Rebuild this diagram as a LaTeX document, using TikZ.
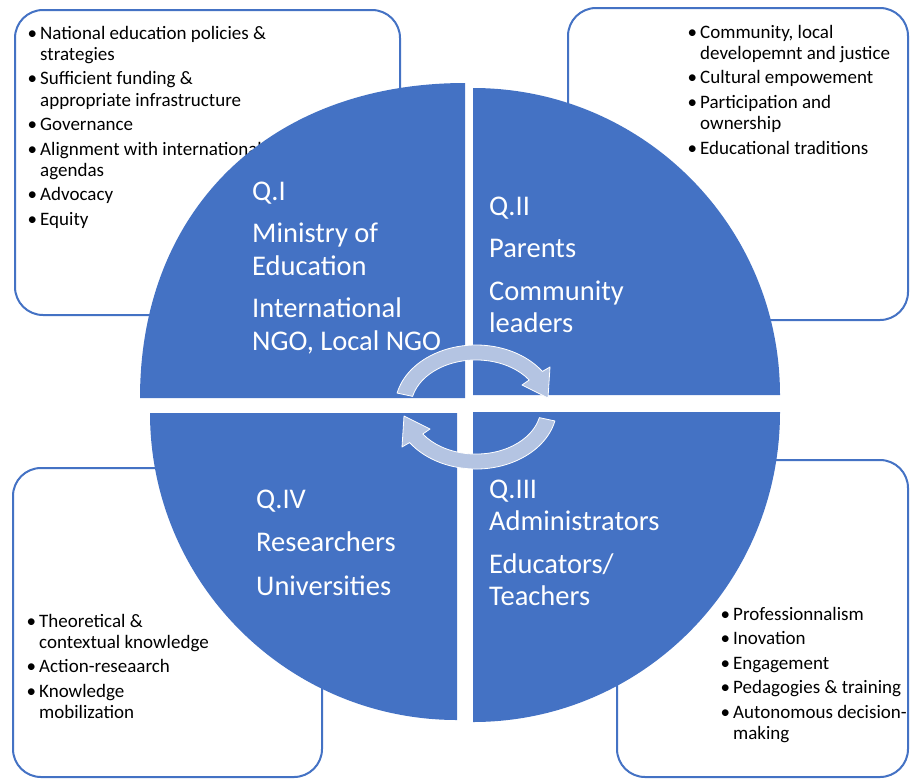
\documentclass[tikz,border=0pt]{standalone}
\usepackage{fontspec}
\setmainfont{Carlito}
\definecolor{qblue}{RGB}{68,114,196}
\definecolor{arrfill}{RGB}{180,196,226}
\newcommand{\bt}{\makebox[11pt][l]{\kern-1.5pt\textbullet}}
\begin{document}
\begin{tikzpicture}[x=1pt,y=-1pt,
  infobox/.style={draw=qblue, line width=2pt, rounded corners=28pt, fill=white},
  quad/.style={fill=qblue},
  bul/.style={anchor=base west, inner sep=0pt, text=black, font=\fontsize{19}{21.3}\selectfont},
  qtxt/.style={anchor=base west, inner sep=0pt, text=white, font=\fontsize{28.5}{32.5}\selectfont},
  cyc/.style={fill=arrfill, draw=white, line width=0.8pt, line join=round}]
\useasboundingbox (0,0) rectangle (910,780);

% corner boxes
\draw[infobox] (15,10) rectangle (400,315);
\draw[infobox] (568,8) rectangle (908,320);
\draw[infobox] (13,468) rectangle (322,777);
\draw[infobox] (617,460) rectangle (908,777);

% box texts
\node[bul] (ltl) at (29,39) {\begin{tabular}[t]{@{}l@{}l@{}}
\bt & National education policies \&\\ & strategies\\[3.2pt]
\bt & Sufficient funding \&\\ & appropriate infrastructure\\[3.2pt]
\bt & Governance\\[3.2pt]
\bt & Alignment with international\\ & agendas\\[3.2pt]
\bt & Advocacy\\[3.2pt]
\bt & Equity
\end{tabular}};
\node[bul] (ltr) at (689,38) {\begin{tabular}[t]{@{}l@{}l@{}}
\bt & Community, local\\ & developemnt and justice\\[3.2pt]
\bt & Cultural empowement\\[3.2pt]
\bt & Participation and\\ & ownership\\[3.2pt]
\bt & Educational traditions
\end{tabular}};
\node[bul] (lbl) at (28,627) {\begin{tabular}[t]{@{}l@{}l@{}}
\bt & Theoretical \&\\ & contextual knowledge\\[3.2pt]
\bt & Action-reseaarch\\[3.2pt]
\bt & Knowledge\\ & mobilization
\end{tabular}};
\node[bul] (lbr) at (722,620) {\begin{tabular}[t]{@{}l@{}l@{}}
\bt & Professionnalism\\[3.2pt]
\bt & Inovation\\[3.2pt]
\bt & Engagement\\[3.2pt]
\bt & Pedagogies \& training\\[3.2pt]
\bt & Autonomous decision-\\ & making
\end{tabular}};

% quadrants
\fill[quad] (465,398) -- (140,398) .. controls (140,209) and (270,83) .. (465,83) -- cycle;
\fill[quad] (473,395) -- (473,88) arc[start angle=270, end angle=360, x radius=307, y radius=307] -- cycle;
\fill[quad] (473,412) -- (780,412) arc[start angle=0, end angle=90, x radius=307, y radius=310] -- cycle;
\fill[quad] (457,413) -- (457,720) arc[start angle=90, end angle=180, x radius=307, y radius=307] -- cycle;

% quadrant texts
\node[qtxt] (q1) at (252,200) {\begin{tabular}[t]{@{}l@{}}
Q.I\\[10pt] Ministry of\\ Education\\[10pt] International\\ NGO, Local NGO\end{tabular}};
\node[qtxt] (q2) at (489,215) {\begin{tabular}[t]{@{}l@{}}
Q.II\\[10pt] Parents\\[10pt] Community\\ leaders\end{tabular}};
\node[qtxt] (q3) at (489,498) {\begin{tabular}[t]{@{}l@{}}
Q.III\\ Administrators\\[10pt] Educators/\\ Teachers\end{tabular}};
\node[qtxt] (q4) at (256,508) {\begin{tabular}[t]{@{}l@{}}
Q.IV\\[11pt] Researchers\\[11pt] Universities\end{tabular}};

% cycle arrows
\path[cyc] (397.1,393.05) arc[start angle=193, end angle=325, x radius=81, y radius=62]
  -- (550,367) -- (548,398) -- (522,385) -- (529.2,380.0)
  arc[start angle=325, end angle=193, x radius=65, y radius=47] -- cycle;
\path[cyc] (554.9,420.95) arc[start angle=13, end angle=145, x radius=81, y radius=62]
  -- (402,447) -- (404,416) -- (430,429) -- (422.8,434.0)
  arc[start angle=145, end angle=13, x radius=65, y radius=47] -- cycle;
\end{tikzpicture}
\end{document}
